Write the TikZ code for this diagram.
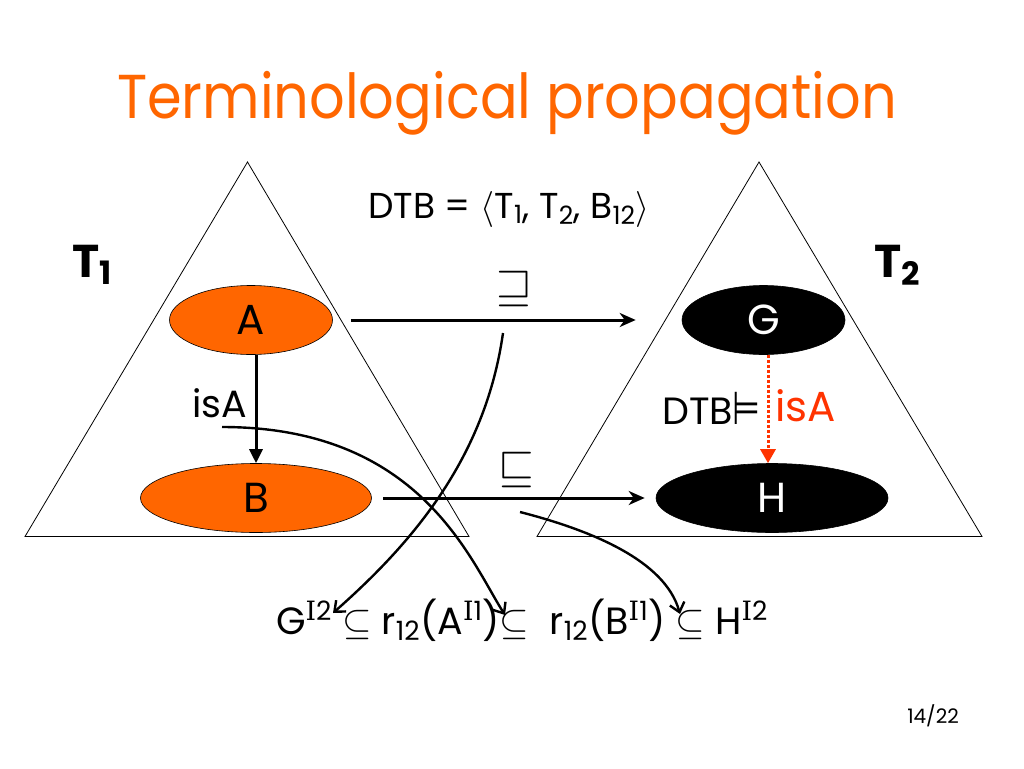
\RequirePackage{fix-cm}
\documentclass[tikz,border=0pt]{standalone}
\usepackage{amssymb}
\usepackage{graphicx}
\usepackage{fontspec}
\setmainfont{Poppins}
\newfontfamily\symfont{DejaVu Sans}
\newfontfamily\serifI{DejaVu Serif}
\usetikzlibrary{arrows.meta,shapes.geometric}
\definecolor{ttlorange}{HTML}{FF6600}
\definecolor{fillorange}{HTML}{FF6600}
\definecolor{isared}{HTML}{FF3300}
\newcommand{\fsz}[1]{\fontsize{#1}{#1}\selectfont}
\newcommand{\interp}[1]{\textsuperscript{{\serifI I}#1}}
\begin{document}
\begin{tikzpicture}[x=1pt,y=-1pt,
  tri/.style={draw=black, line width=0.8pt},
  concept/.style={ellipse, draw=black, line width=0.6pt, inner sep=0pt, minimum height=69pt, font=\fsz{42}},
  org/.style={concept, fill=fillorange, text=black},
  blk/.style={concept, fill=black, text=white},
  mapto/.style={line width=3pt, -{Stealth[length=16pt,width=14pt,inset=5pt]}},
  isaarrow/.style={line width=3pt, -{Triangle[length=14pt,width=13pt]}},
  inferred/.style={line width=3pt, isared, dotted, -{Triangle[length=14pt,width=15pt]}},
  curv/.style={line width=2.4pt, -{Straight Barb[length=9pt,width=15pt]}},
  lbl/.style={inner sep=0pt},
]
\useasboundingbox[fill=white] (0,0) rectangle (1024,768);

% title
\node[lbl, anchor=base, text=ttlorange, font=\fsz{62}] (title) at (507,118) {\scalebox{0.9}[1]{Terminological propagation}};

% triangles
\draw[tri] (247.5,162) -- (469,536.5) -- (25,536.5) -- cycle;
\draw[tri] (759,162) -- (982,536.5) -- (537,536.5) -- cycle;

% tree labels
\node[lbl, anchor=base west, font=\fsz{46}\bfseries] (t1) at (72,277) {T\textsubscript{1}};
\node[lbl, anchor=base west, font=\fsz{46}\bfseries] (t2) at (874,277) {T\textsubscript{2}};

% DTB
\node[lbl, anchor=base, font=\fsz{36}] (dtbdef) at (509,218) {DTB = $\langle$T\textsubscript{1}, T\textsubscript{2}, B\textsubscript{12}$\rangle$};

% concepts
\node[org, minimum width=163pt] (A) at (251,320) {A};
\node[org, minimum width=231pt] (B) at (256,498) {B};
\node[blk, minimum width=163pt] (G) at (763.5,320) {G};
\node[blk, minimum width=232pt] (H) at (772,498) {H};

% isA in T1
\draw[isaarrow] ([xshift=5pt]A.south) -- (B.north);
\node[lbl, anchor=base, font=\fsz{38}] (isa1) at (220,417) {isA};

% inferred isA in T2
\draw[inferred] ([xshift=4.5pt]G.south) -- ([xshift=-4pt]H.north);
\node[lbl, anchor=base east, font=\fsz{38}] (dtbm) at (761,424) {DTB{\symfont\fsz{40}\scalebox{0.8}[1.15]{⊨}}};
\node[lbl, anchor=base west, text=isared, font=\fsz{42}] (isa2) at (775,421) {isA};

% bridge rules
\draw[mapto] ([xshift=18pt]A.east) -- ([xshift=-46pt]G.west);
\draw[mapto] ([xshift=11.5pt]B.east) -- ([xshift=-11pt]H.west);
\node[lbl, font=\fsz{46}] (into) at (514,289) {$\sqsupseteq$};
\node[lbl, font=\fsz{46}] (onto) at (516,470) {$\sqsubseteq$};

% formula
\node[lbl, anchor=base, font=\fsz{38}] (formula) at (522,634)
  {G\interp{2} $\subseteq$ r\textsubscript{12}(A\interp{1})$\subseteq$\ \ r\textsubscript{12}(B\interp{1}) $\subseteq$ H\interp{2}};

% connector end points
\coordinate (c1s) at (222,427);
\coordinate (c1e) at (505,615);
\coordinate (c2s) at (503,333);
\coordinate (c2e) at (333,613);
\coordinate (c3s) at (520,512);
\coordinate (c3e) at (680,614);

\draw[curv] (c1s) .. controls (420,427) and (470,560) .. (c1e);
\draw[curv] (c2s) .. controls (485,460) and (410,545) .. (c2e);
\draw[curv] (c3s) .. controls (590,530) and (665,560) .. (c3e);

% page number
\node[lbl, font=\fsz{20}] (page) at (933,716) {14/22};
\end{tikzpicture}
\end{document}
